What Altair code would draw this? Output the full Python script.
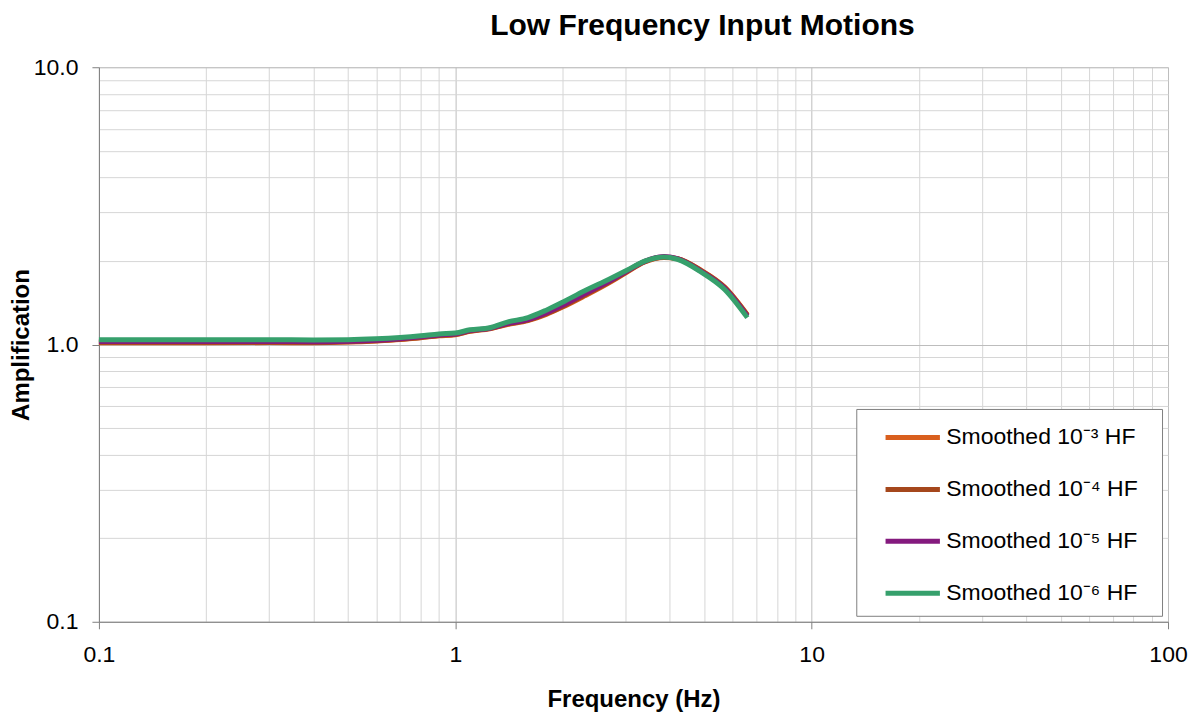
import altair as alt
import pandas as pd

# ---- data ----
freq = [0.1, 0.2, 0.3, 0.4, 0.5, 0.6, 0.7, 0.8, 0.9, 1.0, 1.1, 1.25, 1.4, 1.6,
        1.8, 2.0, 2.3, 2.7, 3.0, 3.4, 3.85, 4.2, 4.9, 5.7, 6.6]

amp_1e3 = [1.015, 1.015, 1.016, 1.015, 1.020, 1.030, 1.042, 1.058, 1.075, 1.085,
           1.115, 1.140, 1.180, 1.220, 1.285, 1.365, 1.495, 1.670, 1.810, 1.985,
           2.060, 2.040, 1.850, 1.610, 1.280]
amp_1e4 = [1.018, 1.018, 1.019, 1.018, 1.023, 1.032, 1.045, 1.060, 1.078, 1.088,
           1.118, 1.143, 1.185, 1.226, 1.292, 1.372, 1.505, 1.680, 1.818, 1.990,
           2.062, 2.038, 1.845, 1.605, 1.275]
amp_1e5 = [1.025, 1.025, 1.026, 1.024, 1.028, 1.036, 1.050, 1.066, 1.083, 1.092,
           1.122, 1.145, 1.190, 1.230, 1.300, 1.385, 1.520, 1.690, 1.825, 1.995,
           2.075, 2.040, 1.835, 1.595, 1.265]
amp_1e6 = [1.040, 1.040, 1.041, 1.038, 1.040, 1.048, 1.060, 1.075, 1.092, 1.100,
           1.130, 1.150, 1.205, 1.250, 1.330, 1.420, 1.560, 1.720, 1.840, 2.000,
           2.070, 2.030, 1.825, 1.580, 1.250]

series_names = ["Smoothed 10\u207b\u00b3 HF", "Smoothed 10\u207b\u2074 HF",
                "Smoothed 10\u207b\u2075 HF", "Smoothed 10\u207b\u2076 HF"]
series_colors = ["#D95F1E", "#A5471C", "#841A7E", "#36A06C"]
series_values = [amp_1e3, amp_1e4, amp_1e5, amp_1e6]

x_ticks = [m * 10.0 ** e for e in (-1, 0, 1) for m in range(1, 10)] + [100.0]
y_ticks = [m * 10.0 ** e for e in (-1, 0) for m in range(1, 10)] + [10.0]

rows = []
for k, (name, vals) in enumerate(zip(series_names, series_values)):
    for f, a in zip(freq, vals):
        rows.append({"Frequency": f, "Amplification": a, "Series": name, "order": k})
df = pd.DataFrame(rows)

FONT = "Liberation Sans"
is_decade = "abs(log(datum.value)/LN10 - round(log(datum.value)/LN10)) < 1e-6"

x_axis = alt.Axis(
    values=x_ticks,
    title="Frequency (Hz)",
    labelExpr=f"({is_decade}) ? format(datum.value, '~g') : ''",
    labelOverlap=False, labelFlush=False,
    labelFontSize=23, labelFont=FONT, labelColor="#000000", labelPadding=15,
    titleFontSize=24, titleFont=FONT, titleFontWeight="bold", titleColor="#000000",
    titlePadding=21,
    tickSize=7, tickColor="#7f7f7f",
    tickOpacity={"condition": {"test": is_decade, "value": 1}, "value": 0},
    gridColor={"condition": {"test": is_decade, "value": "#bdbdbd"}, "value": "#d6d6d6"},
    gridWidth=1, domainColor="#7f7f7f", domainWidth=1,
)
y_axis = alt.Axis(
    values=y_ticks,
    title="Amplification",
    labelExpr=f"({is_decade}) ? format(datum.value, '.1f') : ''",
    labelOverlap=False, labelFlush=False,
    labelFontSize=23, labelFont=FONT, labelColor="#000000", labelPadding=14,
    titleFontSize=24, titleFont=FONT, titleFontWeight="bold", titleColor="#000000",
    titlePadding=0,
    tickSize=7, tickColor="#7f7f7f",
    tickOpacity={"condition": {"test": is_decade, "value": 1}, "value": 0},
    gridColor={"condition": {"test": is_decade, "value": "#bdbdbd"}, "value": "#d6d6d6"},
    gridWidth=1, domainColor="#7f7f7f", domainWidth=1,
)

chart = alt.Chart(df).mark_line(strokeWidth=5, interpolate="monotone").encode(
    x=alt.X("Frequency:Q", scale=alt.Scale(type="log", domain=[0.1, 100], nice=False),
            axis=x_axis),
    y=alt.Y("Amplification:Q", scale=alt.Scale(type="log", domain=[0.1, 10], nice=False),
            axis=y_axis),
    color=alt.Color("Series:N",
                    scale=alt.Scale(domain=series_names, range=series_colors),
                    legend=alt.Legend(
                        title=" ", titleOrient="right", titlePadding=14,
                        titleFontSize=10,
                        orient="bottom-right", offset=6,
                        fillColor="#ffffff", strokeColor="#7f7f7f",
                        padding=10, rowPadding=21, symbolOffset=28,
                        symbolType="M-1.7,0H1.7", symbolSize=1024,
                        symbolStrokeWidth=5,
                        labelFontSize=23, labelFont=FONT, labelColor="#000000",
                        labelOffset=15, labelLimit=400,
                    )),
    order=alt.Order("order:Q"),
).properties(
    width=1070, height=555,
    title=alt.TitleParams("Low Frequency Input Motions", font=FONT, fontSize=30,
                          fontWeight="bold", color="#000000", anchor="middle",
                          dx=69, offset=15),
    padding={"top": 3, "left": 1, "right": 0, "bottom": 0},
).configure_view(stroke=None).configure(background="#ffffff")

chart.save("out.html", embed_options={"renderer": "svg", "actions": False})
